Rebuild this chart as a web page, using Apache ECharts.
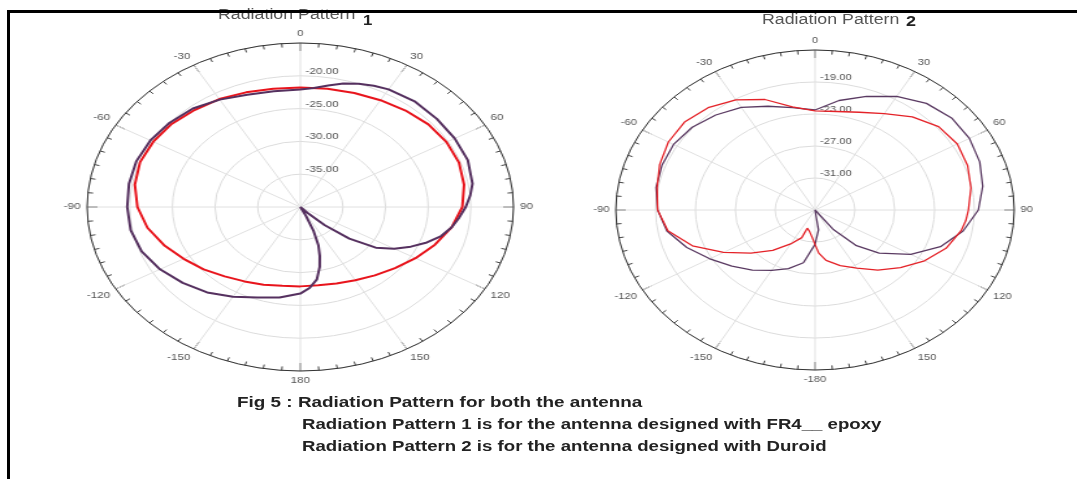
<!DOCTYPE html>
<html><head><meta charset="utf-8">
<script src="https://cdn.jsdelivr.net/npm/echarts@6/dist/echarts.min.js"></script>
<style>
html,body{margin:0;padding:0;background:#fff;width:1077px;height:479px;overflow:hidden;position:relative}
#bg{position:absolute;left:0;top:0;width:1077px;height:479px}
#p1{position:absolute;left:0;top:0;width:462px;height:479px;transform-origin:0 0;transform:scaleX(1.30)}
#p2{position:absolute;left:566px;top:0;width:400px;height:479px;transform-origin:0 0;transform:scaleX(1.245)}
</style></head>
<body>
<div id="bg"></div><div id="p1"></div><div id="p2"></div>
<script>
// ---------- data ----------
const angleTicks = [0, 30, 60, 90, 120, 150, 180, -180, -150, -120, -90, -60, -30];
const radius1Ticks = [-40, -35, -30, -25, -20, -15];
const radius2Ticks = [-35, -31, -27, -23, -19, -15];

// Radiation Pattern 1 (FR4 epoxy)
const p1PurpleAngles = [0, 5, 10, 15, 20, 25, 30, 40, 50, 60, 70, 80, 85, 90, 95, 100, 105, 110, 115, 120, 125, 130, 134, 137, 140, 150, 154, 157, 160, 163, 166, 170, 175, 180, -170, -160, -150, -140, -130, -120, -110, -100, -90, -80, -70, -60, -50, -40, -30, -20, -10];
const p1PurpleValues = [-22.1, -21.8, -21.2, -20.5, -20.0, -19.6, -19.3, -19.05, -19.1, -19.1, -19.1, -19.5, -20.0, -20.6, -21.3, -22.0, -22.9, -24.2, -25.7, -27.3, -29.2, -32.5, -36.0, -38.8, -40, -40, -38.5, -36.0, -33.8, -32.2, -30.6, -28.8, -27.6, -26.8, -26.0, -25.3, -24.2, -23.0, -22.0, -21.0, -20.2, -19.8, -19.7, -19.6, -19.55, -19.7, -20.0, -20.4, -21.1, -21.8, -22.1];
const p1RedAngles = [0, 10, 20, 30, 40, 50, 60, 70, 80, 90, 100, 110, 120, 130, 140, 150, 160, 170, 180, -170, -160, -150, -140, -130, -120, -110, -100, -90, -80, -70, -60, -50, -40, -30, -20, -10];
const p1RedValues = [-21.8, -21.7, -21.5, -21.2, -20.8, -20.4, -20.2, -20.2, -20.5, -21.0, -22.0, -23.2, -24.4, -25.5, -26.4, -27.1, -27.6, -27.9, -27.9, -27.8, -27.4, -26.9, -26.2, -25.2, -24.2, -23.0, -21.8, -20.9, -20.3, -20.0, -20.1, -20.3, -20.7, -21.0, -21.4, -21.7];

// Radiation Pattern 2 (Duroid)
const p2PurpleAngles = [0, 10, 20, 30, 40, 50, 60, 70, 80, 90, 100, 110, 120, 130, 137, 143, 148, 165, 172, 180, -170, -160, -150, -140, -130, -120, -110, -100, -90, -80, -70, -60, -50, -40, -30, -20, -10];
const p2PurpleValues = [-22.5, -21.1, -19.9, -18.6, -17.6, -17.1, -17.1, -17.4, -17.9, -18.6, -19.9, -21.6, -23.9, -26.6, -28.9, -32.0, -35, -35, -32.5, -30.7, -28.3, -27.2, -26.3, -25.2, -24.1, -22.8, -21.3, -19.9, -19.2, -18.8, -18.65, -18.6, -18.9, -19.5, -20.2, -21.2, -22.0];
const p2RedAngles = [0, 10, 20, 30, 40, 50, 60, 70, 80, 90, 95, 100, 110, 120, 130, 140, 150, 160, 170, 176, 180, -175, -168, -161, -159, -150, -140, -130, -120, -110, -100, -90, -80, -70, -60, -50, -40, -30, -20, -10];
const p2RedValues = [-22.6, -22.5, -22.0, -21.1, -19.8, -18.8, -18.5, -18.7, -19.1, -19.6, -19.8, -20.1, -21.0, -22.3, -23.8, -25.2, -26.6, -27.6, -28.6, -29.6, -30.7, -31.6, -32.3, -32.6, -31.3, -30.1, -28.4, -26.6, -24.4, -21.9, -20.0, -19.2, -18.9, -18.4, -18.0, -17.9, -18.3, -19.1, -20.3, -21.9];

// ---------- helpers ----------
function loop(angles, values) {
  const pts = angles.map((a, i) => [values[i], a < 0 ? a + 360 : a]);
  pts.sort((p, q) => p[1] - q[1]);
  pts.push([pts[0][0], pts[0][1] + 360]);
  return pts;
}
function polarOpt(cy, r, rTicks, signedBottom, series) {
  const rmin = rTicks[0], rmax = rTicks[rTicks.length - 1];
  return {
    animation: false,
    polar: { center: ['50%', cy], radius: r },
    angleAxis: {
      type: 'value', min: 0, max: 360, interval: 30, startAngle: 90, clockwise: true,
      axisLine: { lineStyle: { color: '#333', width: 1 } },
      axisTick: { inside: true, length: 8, lineStyle: { color: '#333' } },
      minorTick: { show: true, splitNumber: 6, length: 4, lineStyle: { color: '#444' } },
      axisLabel: {
        margin: 5, color: '#555', fontSize: 9, fontFamily: 'Liberation Sans',
        formatter: v => {
          const s = (signedBottom ? v >= 180 : v > 180) ? v - 360 : v;
          return angleTicks.includes(s) ? String(s) : '';
        }
      },
      splitLine: { show: true, lineStyle: { color: '#e0e0e0', width: 1 } }
    },
    radiusAxis: {
      type: 'value', min: rmin, max: rmax, interval: rTicks[1] - rTicks[0],
      axisLine: { show: false }, axisTick: { show: false },
      axisLabel: { showMinLabel: false, showMaxLabel: false, color: '#555', fontSize: 9,
        margin: -4, align: 'left', verticalAlign: 'bottom',
        fontFamily: 'Liberation Sans', formatter: v => v.toFixed(2) },
      splitLine: { show: true, lineStyle: { color: '#dcdcdc', width: 1 } }
    },
    series: series
  };
}

// ---------- pattern 1 ----------
const c1 = echarts.init(document.getElementById('p1'), null, { renderer: 'canvas' });
c1.setOption(polarOpt(207, 164, radius1Ticks, false, [
  { type: 'line', name: 'Pattern 1 A', coordinateSystem: 'polar', data: loop(p1RedAngles, p1RedValues),
    symbol: 'none', smooth: false, lineStyle: { color: '#e8141c', width: 2 } },
  { type: 'line', name: 'Pattern 1 B', coordinateSystem: 'polar', data: loop(p1PurpleAngles, p1PurpleValues),
    symbol: 'none', smooth: false, lineStyle: { color: '#55305f', width: 2 } }
]));

// ---------- pattern 2 ----------
const c2 = echarts.init(document.getElementById('p2'), null, { renderer: 'canvas' });
c2.setOption(polarOpt(210, 160, radius2Ticks, true, [
  { type: 'line', name: 'Pattern 2 A', coordinateSystem: 'polar', data: loop(p2PurpleAngles, p2PurpleValues),
    symbol: 'none', smooth: false, lineStyle: { color: '#5a3a62', width: 1.3 } },
  { type: 'line', name: 'Pattern 2 B', coordinateSystem: 'polar', data: loop(p2RedAngles, p2RedValues),
    symbol: 'none', smooth: false, lineStyle: { color: '#e42228', width: 1.3 } }
]));

// ---------- titles, caption, frame ----------
const captionLines = [
  'Fig 5 : Radiation Pattern for both the antenna',
  'Radiation Pattern 1 is for the antenna designed with FR4__ epoxy',
  'Radiation Pattern 2 is for the antenna designed with Duroid'
];
const bg = echarts.init(document.getElementById('bg'), null, { renderer: 'canvas' });
const capFont = 'bold 14px "Liberation Sans", Arial, sans-serif';
const titleFont = '14px "Liberation Sans", Arial, sans-serif';
bg.setOption({
  animation: false,
  graphic: [
    { type: 'text', x: 218, y: 15, scaleX: 1.27, z: 1,
      style: { text: 'Radiation Pattern', font: titleFont, fill: '#555', verticalAlign: 'middle' } },
    { type: 'text', x: 363, y: 21, scaleX: 1.2, z: 1,
      style: { text: '1', font: 'bold 14px "Liberation Sans", Arial, sans-serif', fill: '#222', verticalAlign: 'middle' } },
    { type: 'text', x: 762, y: 20, scaleX: 1.27, z: 1,
      style: { text: 'Radiation Pattern', font: titleFont, fill: '#555', verticalAlign: 'middle' } },
    { type: 'text', x: 906, y: 22, scaleX: 1.2, z: 1,
      style: { text: '2', font: 'bold 15px "Liberation Sans", Arial, sans-serif', fill: '#222', verticalAlign: 'middle' } },
    { type: 'text', x: 237, y: 403, scaleX: 1.35, z: 1,
      style: { text: captionLines[0], font: capFont, fill: '#222', verticalAlign: 'middle' } },
    { type: 'text', x: 302, y: 425, scaleX: 1.33, z: 1,
      style: { text: captionLines[1], font: capFont, fill: '#222', verticalAlign: 'middle' } },
    { type: 'text', x: 302, y: 447, scaleX: 1.33, z: 1,
      style: { text: captionLines[2], font: capFont, fill: '#222', verticalAlign: 'middle' } },
    { type: 'polyline', z: 10, shape: { points: [[8.5, 479], [8.5, 11.5], [1077, 11.5]] },
      style: { stroke: '#000', lineWidth: 3, fill: null } }
  ]
});
</script>
</body></html>
